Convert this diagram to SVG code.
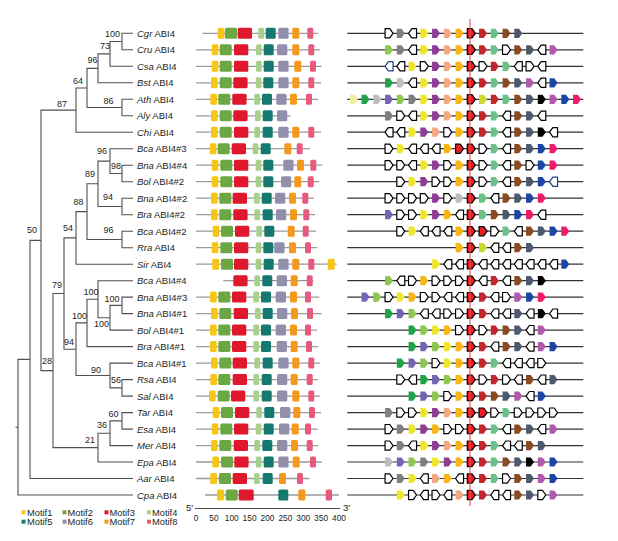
<svg xmlns="http://www.w3.org/2000/svg" xmlns:xlink="http://www.w3.org/1999/xlink" width="618" height="541" viewBox="0 0 618 541">
<style>
.tl{fill:none;stroke:#505050;stroke-width:1.1}
.lf{font-family:"Liberation Sans",Arial,sans-serif;font-size:9.5px;fill:#231f20}
.bs{font-family:"Liberation Sans",Arial,sans-serif;font-size:9px;fill:#231f20}
.ax{font-family:"Liberation Sans",Arial,sans-serif;font-size:8.4px;fill:#231f20;text-anchor:middle}
.lg{font-family:"Liberation Sans",Arial,sans-serif;font-size:9.3px;fill:#231f20}
.ml{stroke:#9a9a9a;stroke-width:1.3}
.gl{stroke:#333;stroke-width:1.2}
.m1{fill:#F5C518}.m2{fill:#6BA843}.m3{fill:#E0182D}.m4{fill:#A8D08D}
.m5{fill:#15796F}.m6{fill:#928FAD}.m7{fill:#F39A1E}.m8{fill:#E65A7E}
.w{fill:#fff;stroke:#000;stroke-width:1.2}
.wn{fill:#fff;stroke:#1F3C88;stroke-width:1.2}
.r{fill:#EE1C25;stroke:#000;stroke-width:1.2}
.gy{fill:#7F7F7F}.lgy{fill:#BDBDBD}.yl{fill:#EEE62C}.pu{fill:#8E3C96}.sa{fill:#F2A882}
.go{fill:#F8B517}.dr{fill:#C1272D}.gr{fill:#6CC18A}.br{fill:#8A4A22}.sl{fill:#4D5A6E}
.mg{fill:#B05AAE}.bl{fill:#1C45A5}.pk{fill:#EC1B6B}.bk{fill:#000}.lgn{fill:#8CC751}
.dg{fill:#1FA349}.vi{fill:#7465B4}.ly{fill:#F2EEA0}.lime{fill:#C9DA2A}
</style>
<defs>
<path id="P" d="M-4,-4.6 H0.7 L4,0 L0.7,4.6 H-4 Z" stroke-linejoin="round"/>
<path id="Q" d="M4,-4.6 H-0.7 L-4,0 L-0.7,4.6 H4 Z" stroke-linejoin="round"/>
</defs>

<g id="tree">
<path class="tl" d="M133 33.3 H122 V49.8 H133"/>
<path class="tl" d="M122 41.55 H110 V66.3 H133"/>
<path class="tl" d="M110 53.9 H98 V82.8 H133"/>
<path class="tl" d="M133 99.3 H122 V115.8 H133"/>
<path class="tl" d="M98 68.35 H87 V107.55 H122"/>
<path class="tl" d="M87 87.95 H76 V132.2 H133"/>
<path class="tl" d="M133 165.2 H122 V181.7 H133"/>
<path class="tl" d="M133 148.7 H110 V173.45 H122"/>
<path class="tl" d="M133 198.2 H122 V214.7 H133"/>
<path class="tl" d="M110 161.1 H98 V206.45 H122"/>
<path class="tl" d="M133 231.2 H122 V247.7 H133"/>
<path class="tl" d="M98 183.8 H87 V239.45 H122"/>
<path class="tl" d="M87 211.6 H76 V264.2 H133"/>
<path class="tl" d="M133 297.1 H122 V313.6 H133"/>
<path class="tl" d="M122 305.35 H110 V330.1 H133"/>
<path class="tl" d="M133 280.7 H98 V317.7 H110"/>
<path class="tl" d="M98 299.2 H87 V346.6 H133"/>
<path class="tl" d="M133 379.6 H122 V396.1 H133"/>
<path class="tl" d="M133 363.1 H110 V387.85 H122"/>
<path class="tl" d="M87 322.9 H76 V375.5 H110"/>
<path class="tl" d="M76 237.9 H64 V349.2 H76"/>
<path class="tl" d="M133 412.6 H122 V429.1 H133"/>
<path class="tl" d="M122 420.85 H110 V445.6 H133"/>
<path class="tl" d="M110 433.2 H98 V462 H133"/>
<path class="tl" d="M64 293.55 H53 V447.6 H98"/>
<path class="tl" d="M76 110.1 H41 V370.6 H53"/>
<path class="tl" d="M41 240.35 H30 V478.5 H133"/>
<path class="tl" d="M30 359.4 H18 V495 H133"/>
<path class="tl" d="M15.5 427.2 H18"/>
</g>

<g id="bootstrap" class="bs">
<text x="105" y="37">100</text>
<text x="100" y="49">73</text>
<text x="87.5" y="63">96</text>
<text x="103.5" y="103.5">86</text>
<text x="73" y="83.5">64</text>
<text x="57" y="106.5">87</text>
<text x="97" y="153.5">96</text>
<text x="111" y="168.5">98</text>
<text x="85" y="176.5">89</text>
<text x="103" y="199.5">94</text>
<text x="103.5" y="232.5">96</text>
<text x="73.5" y="205">88</text>
<text x="63" y="231">54</text>
<text x="27" y="233.3">50</text>
<text x="52" y="288.3">79</text>
<text x="83.5" y="294.5">100</text>
<text x="104.5" y="302">100</text>
<text x="72" y="319">100</text>
<text x="94" y="326.5">100</text>
<text x="64" y="345">94</text>
<text x="91" y="372.5">90</text>
<text x="111" y="383.3">56</text>
<text x="42" y="364">28</text>
<text x="108.5" y="417">60</text>
<text x="97" y="428.3">36</text>
<text x="85" y="443.3">21</text>
</g>

<g id="leaves" class="lf">
<text x="137" y="36.8"><tspan font-style="italic">Cgr</tspan> ABI4</text>
<text x="137" y="53.3"><tspan font-style="italic">Cru</tspan> ABI4</text>
<text x="137" y="69.8"><tspan font-style="italic">Csa</tspan> ABI4</text>
<text x="137" y="86.3"><tspan font-style="italic">Bst</tspan> ABI4</text>
<text x="137" y="102.8"><tspan font-style="italic">Ath</tspan> ABI4</text>
<text x="137" y="119.3"><tspan font-style="italic">Aly</tspan> ABI4</text>
<text x="137" y="135.7"><tspan font-style="italic">Chi</tspan> ABI4</text>
<text x="137" y="152.2"><tspan font-style="italic">Bca</tspan> ABI4#3</text>
<text x="137" y="168.7"><tspan font-style="italic">Bna</tspan> ABI4#4</text>
<text x="137" y="185.2"><tspan font-style="italic">Bol</tspan> ABI4#2</text>
<text x="137" y="201.7"><tspan font-style="italic">Bna</tspan> ABI4#2</text>
<text x="137" y="218.2"><tspan font-style="italic">Bra</tspan> ABI4#2</text>
<text x="137" y="234.7"><tspan font-style="italic">Bca</tspan> ABI4#2</text>
<text x="137" y="251.2"><tspan font-style="italic">Rra</tspan> ABI4</text>
<text x="137" y="267.7"><tspan font-style="italic">Sir</tspan> ABI4</text>
<text x="137" y="284.2"><tspan font-style="italic">Bca</tspan> ABI4#4</text>
<text x="137" y="300.6"><tspan font-style="italic">Bna</tspan> ABI4#3</text>
<text x="137" y="317.1"><tspan font-style="italic">Bna</tspan> ABI4#1</text>
<text x="137" y="333.6"><tspan font-style="italic">Bol</tspan> ABI4#1</text>
<text x="137" y="350.1"><tspan font-style="italic">Bra</tspan> ABI4#1</text>
<text x="137" y="366.6"><tspan font-style="italic">Bca</tspan> ABI4#1</text>
<text x="137" y="383.1"><tspan font-style="italic">Rsa</tspan> ABI4</text>
<text x="137" y="399.6"><tspan font-style="italic">Sal</tspan> ABI4</text>
<text x="137" y="416.1"><tspan font-style="italic">Tar</tspan> ABI4</text>
<text x="137" y="432.6"><tspan font-style="italic">Esa</tspan> ABI4</text>
<text x="137" y="449.1"><tspan font-style="italic">Mer</tspan> ABI4</text>
<text x="137" y="465.5"><tspan font-style="italic">Epa</tspan> ABI4</text>
<text x="137" y="482"><tspan font-style="italic">Aar</tspan> ABI4</text>
<text x="137" y="498.5"><tspan font-style="italic">Cpa</tspan> ABI4</text>
</g>

<g id="motifs">
<g transform="translate(0,33.3)"><line class="ml" x1="202.3" x2="318.3" y1="0" y2="0"/><rect class="m1" x="217.7" y="-5.5" width="6.7" height="11" rx="1.5"/><rect class="m2" x="225" y="-5.5" width="12" height="11" rx="1.5"/><rect class="m3" x="237.7" y="-5.5" width="14.3" height="11" rx="1.5"/><rect class="m4" x="258.3" y="-5.5" width="5.7" height="11" rx="1.5"/><rect class="m5" x="265.7" y="-5.5" width="10" height="11" rx="1.5"/><rect class="m6" x="278.3" y="-5.5" width="10.3" height="11" rx="1.5"/><rect class="m7" x="292.3" y="-5.5" width="7" height="11" rx="1.5"/><rect class="m8" x="307.3" y="-5.5" width="6" height="11" rx="1.5"/></g>
<g transform="translate(0,49.8)"><line class="ml" x1="196" x2="320" y1="0" y2="0"/><rect class="m1" x="211.7" y="-5.5" width="6.7" height="11" rx="1.5"/><rect class="m2" x="219.7" y="-5.5" width="12" height="11" rx="1.5"/><rect class="m3" x="234" y="-5.5" width="14.3" height="11" rx="1.5"/><rect class="m4" x="256" y="-5.5" width="5.7" height="11" rx="1.5"/><rect class="m5" x="263.7" y="-5.5" width="10" height="11" rx="1.5"/><rect class="m6" x="277" y="-5.5" width="10.3" height="11" rx="1.5"/><rect class="m7" x="292.3" y="-5.5" width="7" height="11" rx="1.5"/><rect class="m8" x="308.3" y="-5.5" width="6" height="11" rx="1.5"/></g>
<g transform="translate(0,66.3)"><line class="ml" x1="196" x2="321.7" y1="0" y2="0"/><rect class="m1" x="211.7" y="-5.5" width="6.7" height="11" rx="1.5"/><rect class="m2" x="219.7" y="-5.5" width="12" height="11" rx="1.5"/><rect class="m3" x="234" y="-5.5" width="14.3" height="11" rx="1.5"/><rect class="m4" x="256" y="-5.5" width="5.7" height="11" rx="1.5"/><rect class="m5" x="263.7" y="-5.5" width="10" height="11" rx="1.5"/><rect class="m6" x="278.3" y="-5.5" width="10.3" height="11" rx="1.5"/><rect class="m7" x="294.3" y="-5.5" width="7" height="11" rx="1.5"/><rect class="m8" x="310" y="-5.5" width="6" height="11" rx="1.5"/></g>
<g transform="translate(0,82.8)"><line class="ml" x1="196" x2="321" y1="0" y2="0"/><rect class="m1" x="211" y="-5.5" width="6.7" height="11" rx="1.5"/><rect class="m2" x="219.7" y="-5.5" width="12" height="11" rx="1.5"/><rect class="m3" x="233.3" y="-5.5" width="14.3" height="11" rx="1.5"/><rect class="m4" x="255.7" y="-5.5" width="5.7" height="11" rx="1.5"/><rect class="m5" x="263.3" y="-5.5" width="10" height="11" rx="1.5"/><rect class="m6" x="278.3" y="-5.5" width="10.3" height="11" rx="1.5"/><rect class="m7" x="292.3" y="-5.5" width="7" height="11" rx="1.5"/><rect class="m8" x="308.3" y="-5.5" width="6" height="11" rx="1.5"/></g>
<g transform="translate(0,99.3)"><line class="ml" x1="196" x2="318.3" y1="0" y2="0"/><rect class="m1" x="210.3" y="-5.5" width="6.7" height="11" rx="1.5"/><rect class="m2" x="218.3" y="-5.5" width="12" height="11" rx="1.5"/><rect class="m3" x="232.3" y="-5.5" width="14.3" height="11" rx="1.5"/><rect class="m4" x="254.3" y="-5.5" width="5.7" height="11" rx="1.5"/><rect class="m5" x="262" y="-5.5" width="10" height="11" rx="1.5"/><rect class="m6" x="276.3" y="-5.5" width="10.3" height="11" rx="1.5"/><rect class="m7" x="290" y="-5.5" width="7" height="11" rx="1.5"/><rect class="m8" x="306" y="-5.5" width="6" height="11" rx="1.5"/></g>
<g transform="translate(0,115.8)"><line class="ml" x1="196" x2="290.7" y1="0" y2="0"/><rect class="m1" x="211" y="-5.5" width="6.7" height="11" rx="1.5"/><rect class="m2" x="219.7" y="-5.5" width="12" height="11" rx="1.5"/><rect class="m3" x="233.3" y="-5.5" width="14.3" height="11" rx="1.5"/><rect class="m4" x="255" y="-5.5" width="5.7" height="11" rx="1.5"/><rect class="m5" x="262.7" y="-5.5" width="10" height="11" rx="1.5"/><rect class="m6" x="277" y="-5.5" width="10.3" height="11" rx="1.5"/></g>
<g transform="translate(0,132.2)"><line class="ml" x1="196" x2="321" y1="0" y2="0"/><rect class="m1" x="211" y="-5.5" width="6.7" height="11" rx="1.5"/><rect class="m2" x="219.7" y="-5.5" width="12" height="11" rx="1.5"/><rect class="m3" x="234" y="-5.5" width="14.3" height="11" rx="1.5"/><rect class="m4" x="254.3" y="-5.5" width="5.7" height="11" rx="1.5"/><rect class="m5" x="262.7" y="-5.5" width="10" height="11" rx="1.5"/><rect class="m6" x="278.3" y="-5.5" width="10.3" height="11" rx="1.5"/><rect class="m7" x="292.3" y="-5.5" width="7" height="11" rx="1.5"/><rect class="m8" x="308.3" y="-5.5" width="6" height="11" rx="1.5"/></g>
<g transform="translate(0,148.7)"><line class="ml" x1="196" x2="310" y1="0" y2="0"/><rect class="m1" x="209.7" y="-5.5" width="6.7" height="11" rx="1.5"/><rect class="m2" x="217.7" y="-5.5" width="12" height="11" rx="1.5"/><rect class="m3" x="231.7" y="-5.5" width="14.3" height="11" rx="1.5"/><rect class="m4" x="252.7" y="-5.5" width="5.7" height="11" rx="1.5"/><rect class="m5" x="260.7" y="-5.5" width="10" height="11" rx="1.5"/><rect class="m7" x="284.3" y="-5.5" width="7" height="11" rx="1.5"/><rect class="m8" x="296.7" y="-5.5" width="6" height="11" rx="1.5"/></g>
<g transform="translate(0,165.2)"><line class="ml" x1="196" x2="322.3" y1="0" y2="0"/><rect class="m1" x="211.7" y="-5.5" width="6.7" height="11" rx="1.5"/><rect class="m2" x="220.3" y="-5.5" width="12" height="11" rx="1.5"/><rect class="m3" x="234" y="-5.5" width="14.3" height="11" rx="1.5"/><rect class="m4" x="255.7" y="-5.5" width="5.7" height="11" rx="1.5"/><rect class="m5" x="263.3" y="-5.5" width="10" height="11" rx="1.5"/><rect class="m6" x="283.3" y="-5.5" width="10.3" height="11" rx="1.5"/><rect class="m7" x="297" y="-5.5" width="7" height="11" rx="1.5"/><rect class="m8" x="310.3" y="-5.5" width="6" height="11" rx="1.5"/></g>
<g transform="translate(0,181.7)"><line class="ml" x1="196" x2="319.3" y1="0" y2="0"/><rect class="m1" x="211.7" y="-5.5" width="6.7" height="11" rx="1.5"/><rect class="m2" x="220.3" y="-5.5" width="12" height="11" rx="1.5"/><rect class="m3" x="234" y="-5.5" width="14.3" height="11" rx="1.5"/><rect class="m4" x="255.7" y="-5.5" width="5.7" height="11" rx="1.5"/><rect class="m5" x="263.3" y="-5.5" width="10" height="11" rx="1.5"/><rect class="m6" x="281" y="-5.5" width="10.3" height="11" rx="1.5"/><rect class="m7" x="294.3" y="-5.5" width="7" height="11" rx="1.5"/><rect class="m8" x="307.7" y="-5.5" width="6" height="11" rx="1.5"/></g>
<g transform="translate(0,198.2)"><line class="ml" x1="196" x2="314" y1="0" y2="0"/><rect class="m1" x="211" y="-5.5" width="6.7" height="11" rx="1.5"/><rect class="m2" x="219.3" y="-5.5" width="12" height="11" rx="1.5"/><rect class="m3" x="232.7" y="-5.5" width="14.3" height="11" rx="1.5"/><rect class="m4" x="254" y="-5.5" width="5.7" height="11" rx="1.5"/><rect class="m5" x="261.7" y="-5.5" width="10" height="11" rx="1.5"/><rect class="m6" x="275" y="-5.5" width="10.3" height="11" rx="1.5"/><rect class="m7" x="289" y="-5.5" width="7" height="11" rx="1.5"/><rect class="m8" x="302.3" y="-5.5" width="6" height="11" rx="1.5"/></g>
<g transform="translate(0,214.7)"><line class="ml" x1="196" x2="315" y1="0" y2="0"/><rect class="m1" x="211" y="-5.5" width="6.7" height="11" rx="1.5"/><rect class="m2" x="219.3" y="-5.5" width="12" height="11" rx="1.5"/><rect class="m3" x="233.3" y="-5.5" width="14.3" height="11" rx="1.5"/><rect class="m4" x="254.3" y="-5.5" width="5.7" height="11" rx="1.5"/><rect class="m5" x="262.7" y="-5.5" width="10" height="11" rx="1.5"/><rect class="m6" x="276" y="-5.5" width="10.3" height="11" rx="1.5"/><rect class="m7" x="290" y="-5.5" width="7" height="11" rx="1.5"/><rect class="m8" x="303.3" y="-5.5" width="6" height="11" rx="1.5"/></g>
<g transform="translate(0,231.2)"><line class="ml" x1="196" x2="316" y1="0" y2="0"/><rect class="m1" x="212.7" y="-5.5" width="6.7" height="11" rx="1.5"/><rect class="m2" x="221" y="-5.5" width="12" height="11" rx="1.5"/><rect class="m3" x="235" y="-5.5" width="14.3" height="11" rx="1.5"/><rect class="m4" x="256.3" y="-5.5" width="5.7" height="11" rx="1.5"/><rect class="m5" x="264.3" y="-5.5" width="10" height="11" rx="1.5"/><rect class="m7" x="287.7" y="-5.5" width="7" height="11" rx="1.5"/><rect class="m8" x="302.7" y="-5.5" width="6" height="11" rx="1.5"/></g>
<g transform="translate(0,247.7)"><line class="ml" x1="196" x2="317.3" y1="0" y2="0"/><rect class="m1" x="211.7" y="-5.5" width="6.7" height="11" rx="1.5"/><rect class="m2" x="220.3" y="-5.5" width="12" height="11" rx="1.5"/><rect class="m3" x="234" y="-5.5" width="14.3" height="11" rx="1.5"/><rect class="m4" x="255.7" y="-5.5" width="5.7" height="11" rx="1.5"/><rect class="m5" x="263.3" y="-5.5" width="10" height="11" rx="1.5"/><rect class="m6" x="274.3" y="-5.5" width="10.3" height="11" rx="1.5"/><rect class="m7" x="289" y="-5.5" width="7" height="11" rx="1.5"/><rect class="m8" x="305" y="-5.5" width="6" height="11" rx="1.5"/></g>
<g transform="translate(0,264.2)"><line class="ml" x1="196" x2="336.7" y1="0" y2="0"/><rect class="m1" x="212.3" y="-5.5" width="6.7" height="11" rx="1.5"/><rect class="m2" x="221" y="-5.5" width="12" height="11" rx="1.5"/><rect class="m3" x="234" y="-5.5" width="14.3" height="11" rx="1.5"/><rect class="m4" x="255.7" y="-5.5" width="5.7" height="11" rx="1.5"/><rect class="m5" x="263.7" y="-5.5" width="10" height="11" rx="1.5"/><rect class="m6" x="278.3" y="-5.5" width="10.3" height="11" rx="1.5"/><rect class="m7" x="292.3" y="-5.5" width="7" height="11" rx="1.5"/><rect class="m8" x="308.3" y="-5.5" width="6" height="11" rx="1.5"/><rect class="m1" x="327.7" y="-5.5" width="7" height="11" rx="1.5"/></g>
<g transform="translate(0,280.7)"><line class="ml" x1="223.3" x2="313.3" y1="0" y2="0"/><rect class="m3" x="233.3" y="-5.5" width="14.3" height="11" rx="1.5"/><rect class="m4" x="254.3" y="-5.5" width="5.7" height="11" rx="1.5"/><rect class="m5" x="262.3" y="-5.5" width="10" height="11" rx="1.5"/><rect class="m6" x="276.7" y="-5.5" width="10.3" height="11" rx="1.5"/><rect class="m7" x="290.7" y="-5.5" width="7" height="11" rx="1.5"/><rect class="m8" x="306.7" y="-5.5" width="6" height="11" rx="1.5"/></g>
<g transform="translate(0,297.1)"><line class="ml" x1="196" x2="319.3" y1="0" y2="0"/><rect class="m1" x="210" y="-5.5" width="6.7" height="11" rx="1.5"/><rect class="m2" x="218.3" y="-5.5" width="12" height="11" rx="1.5"/><rect class="m3" x="232" y="-5.5" width="14.3" height="11" rx="1.5"/><rect class="m4" x="253.3" y="-5.5" width="5.7" height="11" rx="1.5"/><rect class="m5" x="261" y="-5.5" width="10" height="11" rx="1.5"/><rect class="m6" x="275.7" y="-5.5" width="10.3" height="11" rx="1.5"/><rect class="m7" x="290" y="-5.5" width="7" height="11" rx="1.5"/><rect class="m8" x="305" y="-5.5" width="6" height="11" rx="1.5"/></g>
<g transform="translate(0,313.6)"><line class="ml" x1="196" x2="321.7" y1="0" y2="0"/><rect class="m1" x="211" y="-5.5" width="6.7" height="11" rx="1.5"/><rect class="m2" x="219.3" y="-5.5" width="12" height="11" rx="1.5"/><rect class="m3" x="233.7" y="-5.5" width="14.3" height="11" rx="1.5"/><rect class="m4" x="255" y="-5.5" width="5.7" height="11" rx="1.5"/><rect class="m5" x="262.7" y="-5.5" width="10" height="11" rx="1.5"/><rect class="m6" x="277" y="-5.5" width="10.3" height="11" rx="1.5"/><rect class="m7" x="291" y="-5.5" width="7" height="11" rx="1.5"/><rect class="m8" x="307" y="-5.5" width="6" height="11" rx="1.5"/></g>
<g transform="translate(0,330.1)"><line class="ml" x1="196" x2="317" y1="0" y2="0"/><rect class="m1" x="210" y="-5.5" width="6.7" height="11" rx="1.5"/><rect class="m2" x="218.3" y="-5.5" width="12" height="11" rx="1.5"/><rect class="m3" x="232" y="-5.5" width="14.3" height="11" rx="1.5"/><rect class="m4" x="253.3" y="-5.5" width="5.7" height="11" rx="1.5"/><rect class="m5" x="261" y="-5.5" width="10" height="11" rx="1.5"/><rect class="m6" x="275.7" y="-5.5" width="10.3" height="11" rx="1.5"/><rect class="m7" x="290" y="-5.5" width="7" height="11" rx="1.5"/><rect class="m8" x="305" y="-5.5" width="6" height="11" rx="1.5"/></g>
<g transform="translate(0,346.6)"><line class="ml" x1="196" x2="318" y1="0" y2="0"/><rect class="m1" x="210" y="-5.5" width="6.7" height="11" rx="1.5"/><rect class="m2" x="218.3" y="-5.5" width="12" height="11" rx="1.5"/><rect class="m3" x="232" y="-5.5" width="14.3" height="11" rx="1.5"/><rect class="m4" x="253.3" y="-5.5" width="5.7" height="11" rx="1.5"/><rect class="m5" x="261" y="-5.5" width="10" height="11" rx="1.5"/><rect class="m6" x="276.7" y="-5.5" width="10.3" height="11" rx="1.5"/><rect class="m7" x="290.7" y="-5.5" width="7" height="11" rx="1.5"/><rect class="m8" x="306" y="-5.5" width="6" height="11" rx="1.5"/></g>
<g transform="translate(0,363.1)"><line class="ml" x1="196" x2="320" y1="0" y2="0"/><rect class="m1" x="211" y="-5.5" width="6.7" height="11" rx="1.5"/><rect class="m2" x="219.3" y="-5.5" width="12" height="11" rx="1.5"/><rect class="m3" x="232.7" y="-5.5" width="14.3" height="11" rx="1.5"/><rect class="m4" x="254.3" y="-5.5" width="5.7" height="11" rx="1.5"/><rect class="m5" x="262.7" y="-5.5" width="10" height="11" rx="1.5"/><rect class="m6" x="278.3" y="-5.5" width="10.3" height="11" rx="1.5"/><rect class="m7" x="292.3" y="-5.5" width="7" height="11" rx="1.5"/><rect class="m8" x="308.3" y="-5.5" width="6" height="11" rx="1.5"/></g>
<g transform="translate(0,379.6)"><line class="ml" x1="196" x2="317.7" y1="0" y2="0"/><rect class="m1" x="210.3" y="-5.5" width="6.7" height="11" rx="1.5"/><rect class="m2" x="218.3" y="-5.5" width="12" height="11" rx="1.5"/><rect class="m3" x="232.7" y="-5.5" width="14.3" height="11" rx="1.5"/><rect class="m4" x="253.3" y="-5.5" width="5.7" height="11" rx="1.5"/><rect class="m5" x="261.7" y="-5.5" width="10" height="11" rx="1.5"/><rect class="m6" x="277" y="-5.5" width="10.3" height="11" rx="1.5"/><rect class="m7" x="290.7" y="-5.5" width="7" height="11" rx="1.5"/><rect class="m8" x="306.7" y="-5.5" width="6" height="11" rx="1.5"/></g>
<g transform="translate(0,396.1)"><line class="ml" x1="196" x2="320" y1="0" y2="0"/><rect class="m1" x="209" y="-5.5" width="6.7" height="11" rx="1.5"/><rect class="m2" x="217.7" y="-5.5" width="12" height="11" rx="1.5"/><rect class="m3" x="231" y="-5.5" width="14.3" height="11" rx="1.5"/><rect class="m4" x="253.3" y="-5.5" width="5.7" height="11" rx="1.5"/><rect class="m5" x="261.7" y="-5.5" width="10" height="11" rx="1.5"/><rect class="m6" x="277" y="-5.5" width="10.3" height="11" rx="1.5"/><rect class="m7" x="292.3" y="-5.5" width="7" height="11" rx="1.5"/><rect class="m8" x="308.3" y="-5.5" width="6" height="11" rx="1.5"/></g>
<g transform="translate(0,412.6)"><line class="ml" x1="196" x2="321" y1="0" y2="0"/><rect class="m1" x="212.7" y="-5.5" width="6.7" height="11" rx="1.5"/><rect class="m2" x="221" y="-5.5" width="12" height="11" rx="1.5"/><rect class="m3" x="235" y="-5.5" width="14.3" height="11" rx="1.5"/><rect class="m4" x="256.3" y="-5.5" width="5.7" height="11" rx="1.5"/><rect class="m5" x="264.3" y="-5.5" width="10" height="11" rx="1.5"/><rect class="m6" x="280" y="-5.5" width="10.3" height="11" rx="1.5"/><rect class="m7" x="293.3" y="-5.5" width="7" height="11" rx="1.5"/><rect class="m8" x="309" y="-5.5" width="6" height="11" rx="1.5"/></g>
<g transform="translate(0,429.1)"><line class="ml" x1="196" x2="317.7" y1="0" y2="0"/><rect class="m1" x="211.7" y="-5.5" width="6.7" height="11" rx="1.5"/><rect class="m2" x="220.3" y="-5.5" width="12" height="11" rx="1.5"/><rect class="m3" x="234" y="-5.5" width="14.3" height="11" rx="1.5"/><rect class="m4" x="255.7" y="-5.5" width="5.7" height="11" rx="1.5"/><rect class="m5" x="263.7" y="-5.5" width="10" height="11" rx="1.5"/><rect class="m6" x="279" y="-5.5" width="10.3" height="11" rx="1.5"/><rect class="m7" x="291.7" y="-5.5" width="7" height="11" rx="1.5"/><rect class="m8" x="305" y="-5.5" width="6" height="11" rx="1.5"/></g>
<g transform="translate(0,445.6)"><line class="ml" x1="196" x2="318.3" y1="0" y2="0"/><rect class="m1" x="211" y="-5.5" width="6.7" height="11" rx="1.5"/><rect class="m2" x="219.3" y="-5.5" width="12" height="11" rx="1.5"/><rect class="m3" x="233.7" y="-5.5" width="14.3" height="11" rx="1.5"/><rect class="m4" x="254.3" y="-5.5" width="5.7" height="11" rx="1.5"/><rect class="m5" x="262.3" y="-5.5" width="10" height="11" rx="1.5"/><rect class="m6" x="277" y="-5.5" width="10.3" height="11" rx="1.5"/><rect class="m7" x="291" y="-5.5" width="7" height="11" rx="1.5"/><rect class="m8" x="306.7" y="-5.5" width="6" height="11" rx="1.5"/></g>
<g transform="translate(0,462)"><line class="ml" x1="196" x2="321.7" y1="0" y2="0"/><rect class="m1" x="212.3" y="-5.5" width="6.7" height="11" rx="1.5"/><rect class="m2" x="221" y="-5.5" width="12" height="11" rx="1.5"/><rect class="m3" x="234.3" y="-5.5" width="14.3" height="11" rx="1.5"/><rect class="m4" x="255.7" y="-5.5" width="5.7" height="11" rx="1.5"/><rect class="m5" x="263.7" y="-5.5" width="10" height="11" rx="1.5"/><rect class="m6" x="278.3" y="-5.5" width="10.3" height="11" rx="1.5"/><rect class="m7" x="292.7" y="-5.5" width="7" height="11" rx="1.5"/><rect class="m8" x="310" y="-5.5" width="6" height="11" rx="1.5"/></g>
<g transform="translate(0,478.5)"><line class="ml" x1="196" x2="309.3" y1="0" y2="0"/><rect class="m1" x="210.3" y="-5.5" width="6.7" height="11" rx="1.5"/><rect class="m2" x="219" y="-5.5" width="12" height="11" rx="1.5"/><rect class="m3" x="232.7" y="-5.5" width="14.3" height="11" rx="1.5"/><rect class="m4" x="254" y="-5.5" width="5.7" height="11" rx="1.5"/><rect class="m5" x="262.7" y="-5.5" width="10" height="11" rx="1.5"/><rect class="m7" x="279" y="-5.5" width="7" height="11" rx="1.5"/><rect class="m8" x="297" y="-5.5" width="6" height="11" rx="1.5"/></g>
<g transform="translate(0,495)"><line class="ml" x1="205" x2="339" y1="0" y2="0"/><rect class="m1" x="217" y="-5.5" width="7" height="11" rx="1.5"/><rect class="m2" x="225.7" y="-5.5" width="12" height="11" rx="1.5"/><rect class="m3" x="238.7" y="-5.5" width="15" height="11" rx="1.5"/><rect class="m5" x="278.3" y="-5.5" width="10" height="11" rx="1.5"/><rect class="m7" x="298.3" y="-5.5" width="7" height="11" rx="1.5"/><rect class="m8" x="325.7" y="-5.5" width="6.3" height="11" rx="1.5"/></g>
</g>

<g id="axis">
<text class="lf" x="186" y="511">5'</text>
<line x1="195" x2="340" y1="508.5" y2="508.5" stroke="#231f20" stroke-width="0.8"/>
<text class="lf" x="343" y="511">3'</text>
<text class="ax" x="196" y="521">0</text>
<text class="ax" x="213.9" y="521">50</text>
<text class="ax" x="231.8" y="521">100</text>
<text class="ax" x="249.6" y="521">150</text>
<text class="ax" x="267.5" y="521">200</text>
<text class="ax" x="285.4" y="521">250</text>
<text class="ax" x="303.3" y="521">300</text>
<text class="ax" x="321.1" y="521">350</text>
<text class="ax" x="339" y="521">400</text>
</g>

<g id="legend" class="lg">
<rect class="m1" x="21.5" y="510.3" width="4" height="4"/><text x="27" y="515.5">Motif1</text>
<rect class="m2" x="62.5" y="510.3" width="4" height="4"/><text x="67.5" y="515.5">Motif2</text>
<rect class="m3" x="104.5" y="510.3" width="4" height="4"/><text x="109.5" y="515.5">Motif3</text>
<rect class="m4" x="147" y="510.3" width="4" height="4"/><text x="152" y="515.5">Motif4</text>
<rect class="m5" x="21.5" y="519.7" width="4" height="4"/><text x="27" y="525">Motif5</text>
<rect class="m6" x="62.5" y="519.7" width="4" height="4"/><text x="67.5" y="525">Motif6</text>
<rect class="m7" x="104.5" y="519.7" width="4" height="4"/><text x="109.5" y="525">Motif7</text>
<rect class="m8" x="147" y="519.7" width="4" height="4"/><text x="152" y="525">Motif8</text>
</g>

<g id="structures">
<g transform="translate(471.3,33.3)"><line class="gl" x1="-124" x2="112" y1="0" y2="0"/><use href="#P" x="-82.25" class="w"/><use href="#P" x="-70.5" class="gy"/><use href="#Q" x="-58.75" class="w"/><use href="#P" x="-47" class="yl"/><use href="#P" x="-35.25" class="pu"/><use href="#P" x="-23.5" class="sa"/><use href="#P" x="-11.75" class="go"/><use href="#P" x="0" class="r"/><use href="#P" x="11.75" class="dr"/><use href="#P" x="23.5" class="gr"/><use href="#P" x="35.25" class="br"/><use href="#P" x="47" class="sl"/></g>
<g transform="translate(471.3,49.8)"><line class="gl" x1="-124" x2="112" y1="0" y2="0"/><use href="#P" x="-82.25" class="lgn"/><use href="#P" x="-70.5" class="gy"/><use href="#Q" x="-58.75" class="w"/><use href="#P" x="-47" class="yl"/><use href="#P" x="-35.25" class="pu"/><use href="#P" x="-23.5" class="sa"/><use href="#P" x="-11.75" class="go"/><use href="#P" x="0" class="r"/><use href="#P" x="11.75" class="dr"/><use href="#P" x="23.5" class="gr"/><use href="#P" x="35.25" class="w"/><use href="#P" x="47" class="br"/><use href="#P" x="58.75" class="sl"/><use href="#Q" x="70.5" class="w"/><use href="#P" x="82.25" class="mg"/></g>
<g transform="translate(471.3,66.3)"><line class="gl" x1="-124" x2="112" y1="0" y2="0"/><use href="#Q" x="-82.25" class="wn"/><use href="#Q" x="-70.5" class="w"/><use href="#P" x="-58.75" class="yl"/><use href="#P" x="-47" class="w"/><use href="#P" x="-35.25" class="pu"/><use href="#P" x="-23.5" class="sa"/><use href="#P" x="-11.75" class="go"/><use href="#P" x="0" class="r"/><use href="#P" x="11.75" class="w"/><use href="#P" x="23.5" class="dr"/><use href="#P" x="35.25" class="gr"/><use href="#Q" x="47" class="w"/><use href="#P" x="58.75" class="w"/><use href="#Q" x="70.5" class="w"/></g>
<g transform="translate(471.3,82.8)"><line class="gl" x1="-124" x2="112" y1="0" y2="0"/><use href="#P" x="-82.25" class="dg"/><use href="#P" x="-70.5" class="lgy"/><use href="#Q" x="-58.75" class="w"/><use href="#P" x="-47" class="yl"/><use href="#P" x="-35.25" class="pu"/><use href="#P" x="-23.5" class="sa"/><use href="#P" x="-11.75" class="go"/><use href="#P" x="0" class="r"/><use href="#P" x="11.75" class="dr"/><use href="#P" x="23.5" class="gr"/><use href="#P" x="35.25" class="br"/><use href="#P" x="47" class="sl"/><use href="#P" x="58.75" class="mg"/><use href="#Q" x="70.5" class="w"/><use href="#P" x="82.25" class="bl"/></g>
<g transform="translate(471.3,99.3)"><line class="gl" x1="-124" x2="112" y1="0" y2="0"/><use href="#P" x="-117.5" class="ly"/><use href="#P" x="-105.75" class="dg"/><use href="#P" x="-94" class="lgy"/><use href="#P" x="-82.25" class="vi"/><use href="#P" x="-70.5" class="lgn"/><use href="#P" x="-58.75" class="gy"/><use href="#P" x="-47" class="yl"/><use href="#P" x="-35.25" class="pu"/><use href="#P" x="-23.5" class="sa"/><use href="#P" x="-11.75" class="go"/><use href="#P" x="0" class="r"/><use href="#P" x="11.75" class="lime"/><use href="#P" x="23.5" class="dr"/><use href="#P" x="35.25" class="gr"/><use href="#P" x="47" class="br"/><use href="#P" x="58.75" class="sl"/><use href="#P" x="70.5" class="bk"/><use href="#P" x="82.25" class="mg"/><use href="#P" x="94" class="bl"/><use href="#P" x="105.75" class="pk"/></g>
<g transform="translate(471.3,115.8)"><line class="gl" x1="-124" x2="112" y1="0" y2="0"/><use href="#P" x="-82.25" class="gy"/><use href="#P" x="-70.5" class="w"/><use href="#Q" x="-58.75" class="w"/><use href="#P" x="-47" class="yl"/><use href="#P" x="-35.25" class="pu"/><use href="#P" x="-23.5" class="sa"/><use href="#P" x="-11.75" class="go"/><use href="#P" x="0" class="r"/><use href="#P" x="11.75" class="dr"/><use href="#P" x="23.5" class="gr"/><use href="#Q" x="35.25" class="w"/><use href="#P" x="47" class="br"/><use href="#P" x="58.75" class="sl"/><use href="#Q" x="70.5" class="w"/></g>
<g transform="translate(471.3,132.2)"><line class="gl" x1="-124" x2="112" y1="0" y2="0"/><use href="#Q" x="-82.25" class="w"/><use href="#Q" x="-70.5" class="w"/><use href="#P" x="-58.75" class="yl"/><use href="#P" x="-47" class="pu"/><use href="#P" x="-35.25" class="sa"/><use href="#P" x="-23.5" class="w"/><use href="#P" x="-11.75" class="go"/><use href="#P" x="0" class="r"/><use href="#P" x="11.75" class="dr"/><use href="#P" x="23.5" class="gr"/><use href="#Q" x="35.25" class="w"/><use href="#P" x="47" class="br"/><use href="#P" x="58.75" class="sl"/><use href="#P" x="70.5" class="bk"/><use href="#Q" x="82.25" class="w"/></g>
<g transform="translate(471.3,148.7)"><line class="gl" x1="-124" x2="112" y1="0" y2="0"/><use href="#P" x="-82.25" class="w"/><use href="#P" x="-70.5" class="yl"/><use href="#Q" x="-58.75" class="w"/><use href="#Q" x="-47" class="w"/><use href="#Q" x="-35.25" class="w"/><use href="#P" x="-23.5" class="go"/><use href="#P" x="-11.75" class="r"/><use href="#P" x="0" class="r"/><use href="#P" x="11.75" class="w"/><use href="#P" x="23.5" class="gr"/><use href="#Q" x="35.25" class="w"/><use href="#P" x="47" class="br"/><use href="#P" x="58.75" class="sl"/><use href="#P" x="70.5" class="bl"/><use href="#P" x="82.25" class="pk"/></g>
<g transform="translate(471.3,165.2)"><line class="gl" x1="-124" x2="112" y1="0" y2="0"/><use href="#P" x="-82.25" class="w"/><use href="#P" x="-70.5" class="w"/><use href="#Q" x="-58.75" class="w"/><use href="#P" x="-47" class="yl"/><use href="#P" x="-35.25" class="pu"/><use href="#P" x="-23.5" class="w"/><use href="#P" x="-11.75" class="go"/><use href="#P" x="0" class="r"/><use href="#P" x="11.75" class="w"/><use href="#P" x="23.5" class="gr"/><use href="#Q" x="35.25" class="w"/><use href="#P" x="47" class="br"/><use href="#P" x="58.75" class="w"/><use href="#P" x="70.5" class="bl"/><use href="#P" x="82.25" class="pk"/></g>
<g transform="translate(471.3,181.7)"><line class="gl" x1="-124" x2="112" y1="0" y2="0"/><use href="#P" x="-70.5" class="w"/><use href="#P" x="-58.75" class="yl"/><use href="#P" x="-47" class="pu"/><use href="#P" x="-35.25" class="w"/><use href="#P" x="-23.5" class="w"/><use href="#P" x="-11.75" class="go"/><use href="#P" x="0" class="r"/><use href="#P" x="11.75" class="w"/><use href="#P" x="23.5" class="gr"/><use href="#Q" x="35.25" class="w"/><use href="#P" x="47" class="br"/><use href="#P" x="58.75" class="sl"/><use href="#P" x="70.5" class="bl"/><use href="#Q" x="82.25" class="wn"/></g>
<g transform="translate(471.3,198.2)"><line class="gl" x1="-124" x2="112" y1="0" y2="0"/><use href="#P" x="-82.25" class="w"/><use href="#P" x="-70.5" class="w"/><use href="#P" x="-58.75" class="w"/><use href="#P" x="-47" class="w"/><use href="#P" x="-35.25" class="pu"/><use href="#P" x="-23.5" class="w"/><use href="#P" x="-11.75" class="lgy"/><use href="#P" x="0" class="r"/><use href="#P" x="11.75" class="gr"/><use href="#Q" x="23.5" class="w"/><use href="#P" x="35.25" class="br"/><use href="#P" x="47" class="sl"/><use href="#P" x="58.75" class="bl"/><use href="#P" x="70.5" class="pk"/></g>
<g transform="translate(471.3,214.7)"><line class="gl" x1="-124" x2="112" y1="0" y2="0"/><use href="#P" x="-82.25" class="vi"/><use href="#P" x="-70.5" class="w"/><use href="#P" x="-58.75" class="w"/><use href="#P" x="-47" class="yl"/><use href="#P" x="-35.25" class="pu"/><use href="#P" x="-23.5" class="go"/><use href="#Q" x="-11.75" class="w"/><use href="#P" x="0" class="r"/><use href="#P" x="11.75" class="gr"/><use href="#P" x="23.5" class="br"/><use href="#P" x="35.25" class="sl"/><use href="#P" x="47" class="bl"/><use href="#P" x="58.75" class="pk"/><use href="#Q" x="70.5" class="w"/></g>
<g transform="translate(471.3,231.2)"><line class="gl" x1="-124" x2="112" y1="0" y2="0"/><use href="#P" x="-70.5" class="w"/><use href="#P" x="-58.75" class="yl"/><use href="#Q" x="-47" class="w"/><use href="#Q" x="-35.25" class="w"/><use href="#Q" x="-23.5" class="w"/><use href="#P" x="-11.75" class="go"/><use href="#P" x="0" class="r"/><use href="#P" x="11.75" class="r"/><use href="#P" x="23.5" class="w"/><use href="#P" x="35.25" class="gr"/><use href="#Q" x="47" class="w"/><use href="#P" x="58.75" class="br"/><use href="#P" x="70.5" class="sl"/><use href="#P" x="82.25" class="bl"/><use href="#P" x="94" class="pk"/></g>
<g transform="translate(471.3,247.7)"><line class="gl" x1="-124" x2="112" y1="0" y2="0"/><use href="#P" x="-11.75" class="go"/><use href="#P" x="0" class="r"/><use href="#P" x="11.75" class="lime"/><use href="#Q" x="23.5" class="w"/><use href="#Q" x="35.25" class="w"/><use href="#P" x="47" class="br"/><use href="#P" x="58.75" class="sl"/></g>
<g transform="translate(471.3,264.2)"><line class="gl" x1="-124" x2="112" y1="0" y2="0"/><use href="#P" x="-35.25" class="yl"/><use href="#Q" x="-23.5" class="w"/><use href="#Q" x="-11.75" class="w"/><use href="#P" x="0" class="r"/><use href="#Q" x="11.75" class="w"/><use href="#Q" x="23.5" class="w"/><use href="#Q" x="35.25" class="w"/><use href="#Q" x="47" class="w"/><use href="#Q" x="58.75" class="w"/><use href="#Q" x="70.5" class="w"/><use href="#Q" x="82.25" class="w"/><use href="#P" x="94" class="bl"/></g>
<g transform="translate(471.3,280.7)"><line class="gl" x1="-124" x2="112" y1="0" y2="0"/><use href="#P" x="-82.25" class="lgn"/><use href="#Q" x="-70.5" class="w"/><use href="#P" x="-58.75" class="w"/><use href="#P" x="-47" class="go"/><use href="#P" x="-35.25" class="w"/><use href="#P" x="-23.5" class="w"/><use href="#P" x="-11.75" class="w"/><use href="#P" x="0" class="r"/><use href="#Q" x="11.75" class="w"/><use href="#P" x="23.5" class="dr"/><use href="#Q" x="35.25" class="w"/><use href="#P" x="47" class="br"/><use href="#P" x="58.75" class="sl"/><use href="#P" x="70.5" class="bk"/></g>
<g transform="translate(471.3,297.1)"><line class="gl" x1="-124" x2="112" y1="0" y2="0"/><use href="#P" x="-105.75" class="vi"/><use href="#P" x="-94" class="lgn"/><use href="#P" x="-82.25" class="w"/><use href="#P" x="-70.5" class="yl"/><use href="#P" x="-58.75" class="go"/><use href="#P" x="-47" class="w"/><use href="#P" x="-35.25" class="w"/><use href="#Q" x="-23.5" class="w"/><use href="#Q" x="-11.75" class="w"/><use href="#P" x="0" class="r"/><use href="#P" x="11.75" class="dr"/><use href="#Q" x="23.5" class="w"/><use href="#P" x="35.25" class="w"/><use href="#P" x="47" class="mg"/><use href="#P" x="58.75" class="bl"/><use href="#P" x="70.5" class="pk"/></g>
<g transform="translate(471.3,313.6)"><line class="gl" x1="-124" x2="112" y1="0" y2="0"/><use href="#P" x="-82.25" class="dg"/><use href="#P" x="-70.5" class="vi"/><use href="#P" x="-58.75" class="lgn"/><use href="#Q" x="-47" class="w"/><use href="#Q" x="-35.25" class="w"/><use href="#P" x="-23.5" class="w"/><use href="#P" x="-11.75" class="w"/><use href="#P" x="0" class="r"/><use href="#P" x="11.75" class="dr"/><use href="#Q" x="23.5" class="w"/><use href="#Q" x="35.25" class="w"/><use href="#P" x="47" class="sl"/><use href="#Q" x="58.75" class="w"/><use href="#P" x="70.5" class="bk"/><use href="#Q" x="82.25" class="w"/></g>
<g transform="translate(471.3,330.1)"><line class="gl" x1="-124" x2="112" y1="0" y2="0"/><use href="#P" x="-58.75" class="dg"/><use href="#P" x="-47" class="lgn"/><use href="#P" x="-35.25" class="yl"/><use href="#P" x="-23.5" class="go"/><use href="#P" x="-11.75" class="w"/><use href="#P" x="0" class="r"/><use href="#P" x="11.75" class="w"/><use href="#P" x="23.5" class="dr"/><use href="#P" x="35.25" class="br"/><use href="#P" x="47" class="sl"/><use href="#Q" x="58.75" class="w"/><use href="#P" x="70.5" class="mg"/></g>
<g transform="translate(471.3,346.6)"><line class="gl" x1="-124" x2="112" y1="0" y2="0"/><use href="#P" x="-58.75" class="dg"/><use href="#P" x="-47" class="vi"/><use href="#P" x="-35.25" class="lgn"/><use href="#P" x="-23.5" class="yl"/><use href="#P" x="-11.75" class="go"/><use href="#P" x="0" class="r"/><use href="#P" x="11.75" class="dr"/><use href="#Q" x="23.5" class="w"/><use href="#P" x="35.25" class="br"/><use href="#P" x="47" class="sl"/><use href="#Q" x="58.75" class="w"/><use href="#P" x="70.5" class="mg"/><use href="#P" x="82.25" class="bl"/></g>
<g transform="translate(471.3,363.1)"><line class="gl" x1="-124" x2="112" y1="0" y2="0"/><use href="#P" x="-70.5" class="dg"/><use href="#P" x="-58.75" class="vi"/><use href="#P" x="-47" class="lgn"/><use href="#P" x="-35.25" class="w"/><use href="#P" x="-23.5" class="yl"/><use href="#P" x="-11.75" class="go"/><use href="#P" x="0" class="r"/><use href="#P" x="11.75" class="dr"/><use href="#P" x="23.5" class="gr"/><use href="#Q" x="35.25" class="w"/><use href="#Q" x="47" class="w"/><use href="#Q" x="58.75" class="w"/><use href="#P" x="70.5" class="w"/></g>
<g transform="translate(471.3,379.6)"><line class="gl" x1="-124" x2="112" y1="0" y2="0"/><use href="#P" x="-70.5" class="w"/><use href="#Q" x="-58.75" class="w"/><use href="#P" x="-47" class="dg"/><use href="#P" x="-35.25" class="vi"/><use href="#P" x="-23.5" class="lgn"/><use href="#P" x="-11.75" class="go"/><use href="#P" x="0" class="r"/><use href="#P" x="11.75" class="w"/><use href="#P" x="23.5" class="dr"/><use href="#P" x="35.25" class="w"/><use href="#Q" x="47" class="w"/><use href="#P" x="58.75" class="br"/><use href="#Q" x="70.5" class="w"/><use href="#P" x="82.25" class="sl"/></g>
<g transform="translate(471.3,396.1)"><line class="gl" x1="-124" x2="112" y1="0" y2="0"/><use href="#P" x="-58.75" class="dg"/><use href="#P" x="-47" class="vi"/><use href="#P" x="-35.25" class="lgn"/><use href="#P" x="-23.5" class="w"/><use href="#P" x="-11.75" class="go"/><use href="#P" x="0" class="r"/><use href="#P" x="11.75" class="dr"/><use href="#P" x="23.5" class="br"/><use href="#P" x="35.25" class="sl"/><use href="#P" x="47" class="mg"/><use href="#Q" x="58.75" class="w"/><use href="#P" x="70.5" class="bl"/></g>
<g transform="translate(471.3,412.6)"><line class="gl" x1="-124" x2="112" y1="0" y2="0"/><use href="#P" x="-82.25" class="gy"/><use href="#P" x="-70.5" class="w"/><use href="#P" x="-58.75" class="w"/><use href="#P" x="-47" class="yl"/><use href="#P" x="-35.25" class="pu"/><use href="#P" x="-23.5" class="sa"/><use href="#P" x="-11.75" class="go"/><use href="#P" x="0" class="r"/><use href="#P" x="11.75" class="r"/><use href="#P" x="23.5" class="w"/><use href="#P" x="35.25" class="gr"/><use href="#P" x="47" class="w"/><use href="#P" x="58.75" class="w"/><use href="#P" x="70.5" class="w"/><use href="#P" x="82.25" class="w"/></g>
<g transform="translate(471.3,429.1)"><line class="gl" x1="-124" x2="112" y1="0" y2="0"/><use href="#P" x="-82.25" class="w"/><use href="#P" x="-70.5" class="gy"/><use href="#P" x="-58.75" class="yl"/><use href="#P" x="-47" class="pu"/><use href="#P" x="-35.25" class="go"/><use href="#P" x="-23.5" class="w"/><use href="#P" x="-11.75" class="w"/><use href="#P" x="0" class="r"/><use href="#P" x="11.75" class="dr"/><use href="#P" x="23.5" class="gr"/><use href="#Q" x="35.25" class="w"/><use href="#P" x="47" class="br"/><use href="#P" x="58.75" class="sl"/><use href="#Q" x="70.5" class="w"/><use href="#P" x="82.25" class="mg"/></g>
<g transform="translate(471.3,445.6)"><line class="gl" x1="-124" x2="112" y1="0" y2="0"/><use href="#P" x="-82.25" class="w"/><use href="#P" x="-70.5" class="gy"/><use href="#Q" x="-58.75" class="w"/><use href="#P" x="-47" class="yl"/><use href="#P" x="-35.25" class="pu"/><use href="#P" x="-23.5" class="sa"/><use href="#P" x="-11.75" class="go"/><use href="#P" x="0" class="r"/><use href="#P" x="11.75" class="dr"/><use href="#P" x="23.5" class="gr"/><use href="#Q" x="35.25" class="w"/><use href="#Q" x="47" class="w"/><use href="#P" x="58.75" class="br"/><use href="#P" x="70.5" class="sl"/></g>
<g transform="translate(471.3,462)"><line class="gl" x1="-124" x2="112" y1="0" y2="0"/><use href="#P" x="-82.25" class="lgy"/><use href="#P" x="-70.5" class="vi"/><use href="#P" x="-58.75" class="lgn"/><use href="#P" x="-47" class="gy"/><use href="#P" x="-35.25" class="yl"/><use href="#P" x="-23.5" class="pu"/><use href="#P" x="-11.75" class="go"/><use href="#P" x="0" class="r"/><use href="#P" x="11.75" class="dr"/><use href="#P" x="23.5" class="gr"/><use href="#P" x="35.25" class="br"/><use href="#P" x="47" class="sl"/><use href="#P" x="58.75" class="bk"/><use href="#P" x="70.5" class="mg"/><use href="#P" x="82.25" class="bl"/></g>
<g transform="translate(471.3,478.5)"><line class="gl" x1="-124" x2="112" y1="0" y2="0"/><use href="#P" x="-82.25" class="w"/><use href="#P" x="-70.5" class="gy"/><use href="#P" x="-58.75" class="yl"/><use href="#Q" x="-47" class="w"/><use href="#P" x="-35.25" class="sa"/><use href="#P" x="-23.5" class="go"/><use href="#Q" x="-11.75" class="w"/><use href="#P" x="0" class="r"/><use href="#P" x="11.75" class="dr"/><use href="#P" x="23.5" class="gr"/><use href="#P" x="35.25" class="w"/><use href="#P" x="47" class="br"/><use href="#P" x="58.75" class="sl"/><use href="#P" x="70.5" class="mg"/><use href="#P" x="82.25" class="bl"/></g>
<g transform="translate(471.3,495)"><line class="gl" x1="-124" x2="112" y1="0" y2="0"/><use href="#P" x="-70.5" class="yl"/><use href="#P" x="-58.75" class="w"/><use href="#Q" x="-47" class="w"/><use href="#P" x="-35.25" class="w"/><use href="#Q" x="-23.5" class="w"/><use href="#P" x="-11.75" class="sa"/><use href="#P" x="0" class="r"/><use href="#P" x="11.75" class="dr"/><use href="#Q" x="23.5" class="w"/><use href="#Q" x="35.25" class="w"/><use href="#P" x="47" class="br"/><use href="#P" x="58.75" class="sl"/><use href="#P" x="70.5" class="w"/><use href="#P" x="82.25" class="mg"/></g>
</g>
<line id="refline" x1="470" x2="470" y1="19" y2="506" stroke="#F04A4A" stroke-width="1.1"/>
</svg>
